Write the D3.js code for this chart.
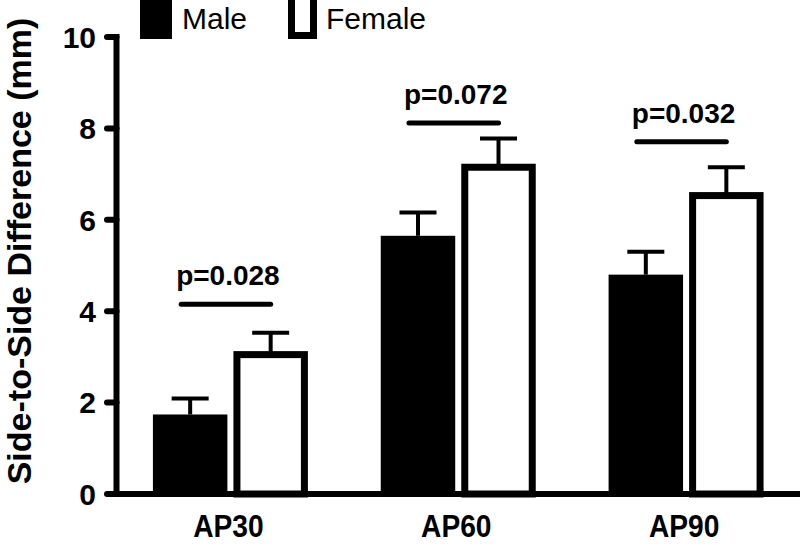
<!DOCTYPE html>
<html>
<head>
<meta charset="utf-8">
<script src="https://cdn.jsdelivr.net/npm/d3@7"></script>
<style>
  html, body { margin: 0; padding: 0; background: #fff; }
  svg { display: block; font-family: "Liberation Sans", Arial, Helvetica, sans-serif; }
</style>
</head>
<body>
<svg id="chart" width="800" height="551"></svg>
<script>
// ---- data ----
const categories = ["AP30", "AP60", "AP90"];
const seriesNames = ["Male", "Female"];
const maleMeans = [1.74, 5.65, 4.80];
const maleUpper = [2.09, 6.16, 5.30];
const femaleMeans = [3.05, 7.15, 6.53];
const femaleUpper = [3.53, 7.78, 7.15];
const pLabels = ["p=0.028", "p=0.072", "p=0.032"];
const pLineY = [4.15, 8.12, 7.71];
const yTicks = [0, 2, 4, 6, 8, 10];

// ---- layout ----
const svg = d3.select("#chart");
const axisX = 116.5, yTop = 37, yBottom = 494, xRight = 800;

const y = d3.scaleLinear().domain([0, 10]).range([yBottom, yTop]);
const x0 = d3.scaleBand().domain(categories).range([axisX, xRight]).paddingInner(0).paddingOuter(0);
const x1 = d3.scaleBand().domain(seriesNames).range([-77.5, 77.5]).paddingInner(0.075);

const series = [
  { name: "Male", means: maleMeans, upper: maleUpper },
  { name: "Female", means: femaleMeans, upper: femaleUpper }
];

const femaleStroke = 7;

// bars
series.forEach(s => {
  categories.forEach((c, i) => {
    const cx = x0(c) + x0.bandwidth() / 2;
    const bx = cx + x1(s.name);
    const bw = x1.bandwidth();
    const bcx = bx + bw / 2;
    const topY = y(s.means[i]);
    // error bar
    const capW = 37;
    const errTop = y(s.upper[i]);
    svg.append("line").attr("x1", bcx).attr("x2", bcx).attr("y1", topY).attr("y2", errTop)
      .attr("stroke", "#000").attr("stroke-width", 4);
    svg.append("line").attr("x1", bcx - capW / 2).attr("x2", bcx + capW / 2)
      .attr("y1", errTop).attr("y2", errTop)
      .attr("stroke", "#000").attr("stroke-width", 4);
    if (s.name === "Male") {
      svg.append("rect").attr("x", bx).attr("y", topY).attr("width", bw).attr("height", yBottom - topY)
        .attr("fill", "#000");
    } else {
      svg.append("rect")
        .attr("x", bx + femaleStroke / 2).attr("y", topY)
        .attr("width", bw - femaleStroke).attr("height", yBottom - topY)
        .attr("fill", "#fff").attr("stroke", "#000").attr("stroke-width", femaleStroke);
    }
  });
});

// significance lines + labels
categories.forEach((c, i) => {
  const cx = x0(c) + x0.bandwidth() / 2;
  const mC = cx + x1("Male") + x1.bandwidth() / 2;
  const fC = cx + x1("Female") + x1.bandwidth() / 2;
  const ly = y(pLineY[i]);
  svg.append("line").attr("x1", mC - 9).attr("x2", fC).attr("y1", ly).attr("y2", ly)
    .attr("stroke", "#000").attr("stroke-width", 5).attr("stroke-linecap", "round");
  svg.append("text").attr("x", (mC - 9 + fC) / 2 + 2).attr("y", ly - 19)
    .attr("text-anchor", "middle").attr("font-size", 28).attr("font-weight", "bold")
    .text(pLabels[i]);
});

// y axis
const yAxisG = svg.append("g");
yAxisG.append("line").attr("x1", axisX).attr("x2", axisX).attr("y1", y(10)).attr("y2", yBottom)
  .attr("stroke", "#000").attr("stroke-width", 6).attr("stroke-linecap", "square");
yTicks.forEach(t => {
  yAxisG.append("line").attr("x1", 107).attr("x2", axisX).attr("y1", y(t)).attr("y2", y(t))
    .attr("stroke", "#000").attr("stroke-width", 6).attr("stroke-linecap", "round");
  yAxisG.append("text").attr("x", 96).attr("y", y(t)).attr("dy", "0.36em")
    .attr("text-anchor", "end").attr("font-size", 30).attr("font-weight", "bold").text(t);
});

// x axis
svg.append("line").attr("x1", axisX).attr("x2", xRight).attr("y1", yBottom).attr("y2", yBottom)
  .attr("stroke", "#000").attr("stroke-width", 6);
categories.forEach(c => {
  svg.append("text")
    .attr("transform", `translate(${x0(c) + x0.bandwidth() / 2 - 2}, 537) scale(0.88, 1)`)
    .attr("text-anchor", "middle").attr("font-size", 32).attr("font-weight", "bold").text(c);
});

// y label
svg.append("text")
  .attr("transform", `translate(31, ${(22 + 480) / 2}) rotate(-90)`)
  .attr("text-anchor", "middle").attr("font-size", 34).attr("font-weight", "bold")
  .text("Side-to-Side Difference (mm)");

// legend
svg.append("rect").attr("x", 140).attr("y", -5).attr("width", 32).attr("height", 44).attr("fill", "#000");
svg.append("text").attr("x", 182).attr("y", 29).attr("font-size", 30).text("Male");
svg.append("rect").attr("x", 291.5).attr("y", -5).attr("width", 22).attr("height", 40.5)
  .attr("fill", "#fff").attr("stroke", "#000").attr("stroke-width", 7);
svg.append("text").attr("x", 326).attr("y", 29).attr("font-size", 30).text("Female");
</script>
</body>
</html>
